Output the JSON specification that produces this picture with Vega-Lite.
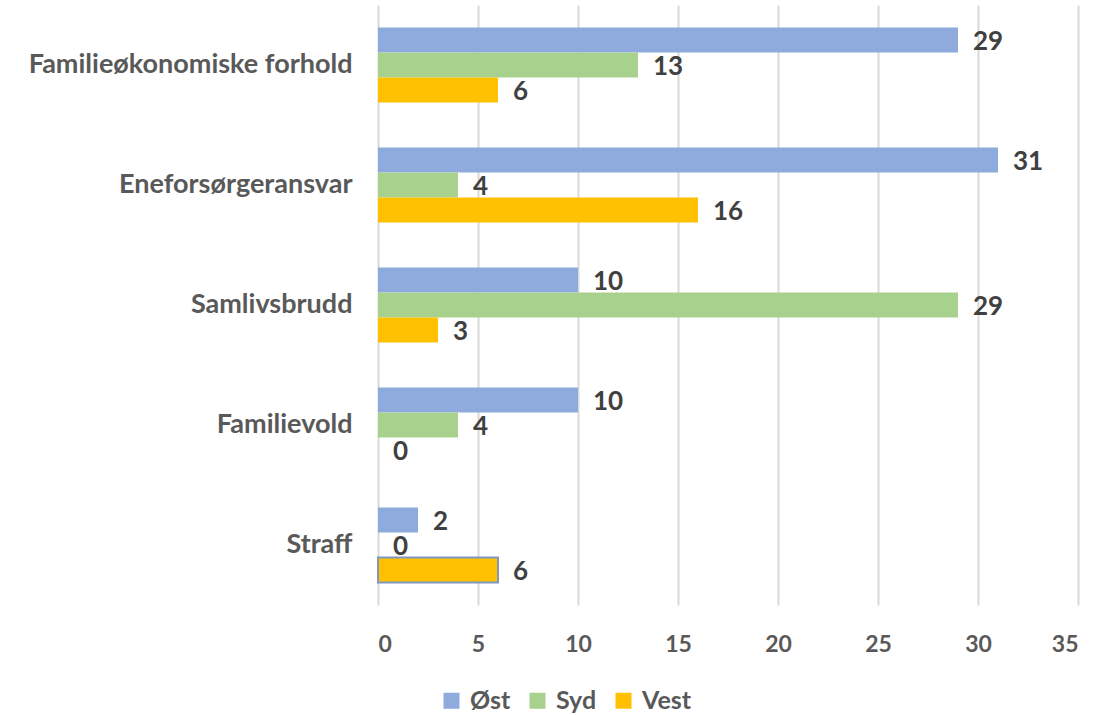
{
  "$schema": "https://vega.github.io/schema/vega-lite/v6.json",
  "width": 700,
  "height": 600,
  "autosize": {"type": "none"},
  "padding": {"left": 378, "top": 5, "right": 41, "bottom": 110},
  "background": "white",
  "config": {
    "view": {"stroke": null},
    "font": "Lato"
  },
  "data": {
    "values": [
      {"cat": "Familieøkonomiske forhold", "region": "Øst", "value": 29},
      {"cat": "Familieøkonomiske forhold", "region": "Syd", "value": 13},
      {"cat": "Familieøkonomiske forhold", "region": "Vest", "value": 6},
      {"cat": "Eneforsørgeransvar", "region": "Øst", "value": 31},
      {"cat": "Eneforsørgeransvar", "region": "Syd", "value": 4},
      {"cat": "Eneforsørgeransvar", "region": "Vest", "value": 16},
      {"cat": "Samlivsbrudd", "region": "Øst", "value": 10},
      {"cat": "Samlivsbrudd", "region": "Syd", "value": 29},
      {"cat": "Samlivsbrudd", "region": "Vest", "value": 3},
      {"cat": "Familievold", "region": "Øst", "value": 10},
      {"cat": "Familievold", "region": "Syd", "value": 4},
      {"cat": "Familievold", "region": "Vest", "value": 0},
      {"cat": "Straff", "region": "Øst", "value": 2},
      {"cat": "Straff", "region": "Syd", "value": 0},
      {"cat": "Straff", "region": "Vest", "value": 6}
    ]
  },
  "encoding": {
    "y": {
      "field": "cat",
      "type": "nominal",
      "sort": ["Familieøkonomiske forhold", "Eneforsørgeransvar", "Samlivsbrudd", "Familievold", "Straff"],
      "scale": {"paddingInner": 0.375, "paddingOuter": 0.1875},
      "axis": {
        "title": null,
        "domain": false,
        "ticks": false,
        "labelPadding": 26,
        "labelFont": "Lato",
        "labelFontWeight": "bold",
        "labelFontSize": 27,
        "labelColor": "#595959",
        "labelLimit": 400
      }
    },
    "yOffset": {
      "field": "region",
      "type": "nominal",
      "sort": ["Øst", "Syd", "Vest"],
      "scale": {"paddingInner": 0, "paddingOuter": 0}
    },
    "x": {
      "field": "value",
      "type": "quantitative",
      "scale": {"domain": [0, 35], "nice": false},
      "axis": {
        "title": null,
        "values": [0, 5, 10, 15, 20, 25, 30, 35],
        "domain": false,
        "ticks": false,
        "grid": true,
        "gridColor": "#D9D9D9",
        "gridWidth": 2,
        "labelPadding": 28,
        "labelFont": "Lato",
        "labelFontWeight": "bold",
        "labelFontSize": 23,
        "labelColor": "#595959"
      }
    }
  },
  "layer": [
    {
      "mark": {"type": "bar"},
      "encoding": {
        "color": {
          "field": "region",
          "type": "nominal",
          "sort": ["Øst", "Syd", "Vest"],
          "scale": {"domain": ["Øst", "Syd", "Vest"], "range": ["#8FAADC", "#A9D18E", "#FFC000"]},
          "legend": {
            "title": null,
            "orient": "none",
            "direction": "horizontal",
            "legendX": 61,
            "legendY": 683,
            "symbolType": "square",
            "symbolSize": 256,
            "symbolStrokeWidth": 0,
            "symbolOpacity": 1,
            "labelFont": "Lato",
            "labelFontWeight": "bold",
            "labelFontSize": 25,
            "labelColor": "#595959",
            "labelOffset": 6,
            "columnPadding": 14
          }
        },
        "stroke": {
          "condition": {"test": "datum.cat === 'Straff' && datum.region === 'Vest'", "value": "#7F98BF"},
          "value": null
        },
        "strokeWidth": {"value": 2}
      }
    },
    {
      "mark": {
        "type": "text",
        "align": "left",
        "baseline": "middle",
        "dx": 15,
        "dy": 2,
        "font": "Lato",
        "fontWeight": "bold",
        "fontSize": 26,
        "color": "#404040"
      },
      "encoding": {
        "text": {"field": "value", "type": "quantitative"}
      }
    }
  ]
}
